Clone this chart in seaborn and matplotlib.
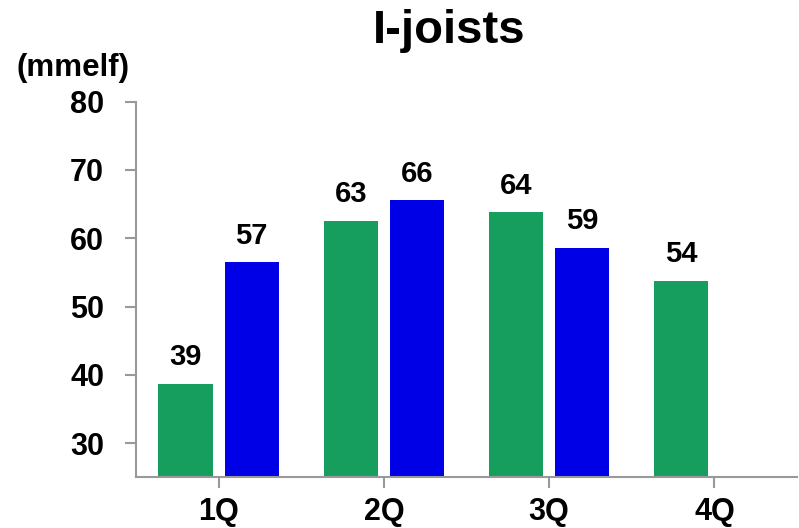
import math
import matplotlib
matplotlib.use("Agg")
import matplotlib.pyplot as plt
import pandas as pd
import seaborn as sns

quarters = ["1Q", "2Q", "3Q", "4Q"]
series_a = [38.7, 62.6, 63.8, 53.8]   # green bars
series_b = [56.5, 65.6, 58.6]         # blue bars (no 4Q yet)
series_names = ["Prior year", "Current year"]
y_ticks = [30, 40, 50, 60, 70, 80]

rows = [(q, series_names[0], v) for q, v in zip(quarters, series_a)]
rows += [(q, series_names[1], v) for q, v in zip(quarters, series_b)]
df = pd.DataFrame(rows, columns=["quarter", "series", "value"])

sns.set_theme(style="white")
plt.rcParams["font.family"] = ["Liberation Sans", "DejaVu Sans"]
plt.rcParams["font.weight"] = "bold"

fig = plt.figure(figsize=(7.99, 5.28), dpi=100)
ax = fig.add_axes([0.1702, 0.0960, 0.8273, 0.7114])

sns.barplot(
    data=df, x="quarter", y="value", hue="series",
    order=quarters, hue_order=series_names,
    palette=["#169E5F", "#0000E6"], saturation=1, width=0.8, gap=0.18,
    errorbar=None, legend=False, ax=ax, linewidth=0,
)

for cont in ax.containers:
    ax.bar_label(cont, fmt=lambda v: f"{math.floor(v + 0.5)}",
                 padding=9, fontsize=21, fontweight="bold", color="black")

ax.set_ylim(25, 80)
ax.set_xlim(-0.5, 3.5)
ax.set_yticks(y_ticks)
ax.set_xlabel("")
ax.set_ylabel("")

for side in ("top", "right"):
    ax.spines[side].set_visible(False)
for side in ("left", "bottom"):
    ax.spines[side].set_color("#999999")
    ax.spines[side].set_linewidth(1.5)

ax.tick_params(axis="y", direction="out", length=8, width=1.5, color="#999999",
               pad=15, labelsize=22, left=True)
ax.tick_params(axis="x", direction="out", length=8, width=1.5, color="#999999",
               pad=6, labelsize=22, bottom=True)
for lab in ax.get_xticklabels() + ax.get_yticklabels():
    lab.set_fontweight("bold")
    lab.set_color("black")

fig.text(0.562, 0.9186, "I-joists", ha="center", va="baseline",
         fontsize=34, fontweight="bold", color="black")
fig.text(0.091, 0.871, "(mmelf)", ha="center", va="center",
         fontsize=22.5, fontweight="bold", color="black")

fig.savefig("out.png", dpi=100)
